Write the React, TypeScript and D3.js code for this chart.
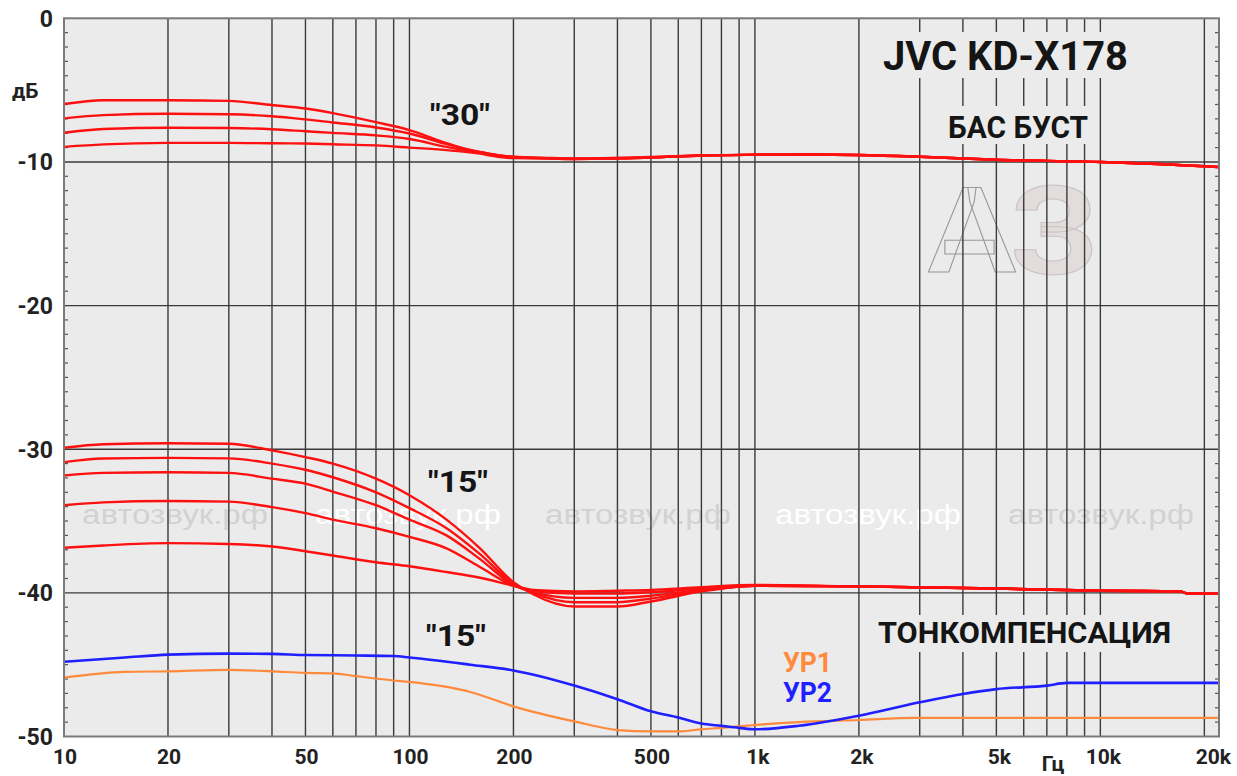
import React from "react";
import * as d3 from "d3";

// ---------- data ----------
const gridFreqs = [20, 30, 40, 50, 60, 70, 80, 90, 100, 200, 300, 400, 500, 600, 700, 800, 900, 1000, 2000, 3000, 4000, 5000, 6000, 7000, 8000, 9000, 10000, 20000];
const xTickValues = [10, 20, 50, 100, 200, 500, 1000, 2000, 5000, 10000, 20000];
const xTickLabels = ["10", "20", "50", "100", "200", "500", "1k", "2k", "5k", "10k", "20k"];
const yTickValues = [0, -10, -20, -30, -40, -50];
const yTickLabels = ["0", "-10", "-20", "-30", "-40", "-50"];

// "30" bass boost group
const bass30Freq = [10, 13, 20, 30, 40, 50, 60, 80, 100, 128, 168, 200, 250, 300, 500, 700, 1000, 1500, 3000, 5000, 10000, 20000, 22050];
const bass30A = [-5.97, -5.7, -5.7, -5.75, -6.04, -6.28, -6.6, -7.23, -7.78, -8.69, -9.52, -9.73, -9.75, -9.8, -9.7, -9.55, -9.5, -9.48, -9.64, -9.85, -10.0, -10.3, -10.36];
const bass30B = [-6.97, -6.74, -6.65, -6.68, -6.82, -7.04, -7.25, -7.6, -8.02, -8.76, -9.4, -9.68, -9.75, -9.8, -9.7, -9.55, -9.5, -9.48, -9.64, -9.85, -10.0, -10.3, -10.36];
const bass30C = [-7.97, -7.71, -7.62, -7.64, -7.72, -7.86, -7.98, -8.15, -8.4, -8.95, -9.4, -9.66, -9.74, -9.78, -9.68, -9.55, -9.5, -9.48, -9.64, -9.85, -10.0, -10.3, -10.36];
const bass30D = [-8.95, -8.78, -8.67, -8.67, -8.7, -8.72, -8.77, -8.85, -9.0, -9.18, -9.46, -9.64, -9.72, -9.76, -9.66, -9.55, -9.5, -9.48, -9.64, -9.85, -10.0, -10.3, -10.36];

// "15" bass boost group
const bass15Freq = [10, 13, 20, 30, 40, 50, 60, 80, 100, 128, 160, 200, 228, 300, 400, 500, 700, 1000, 2000, 5000, 10000, 17000, 18000, 22050];
const bass15A = [-29.9, -29.65, -29.58, -29.62, -30.08, -30.55, -31.0, -32.05, -33.2, -34.9, -36.9, -39.25, -40.1, -40.95, -40.95, -40.6, -39.9, -39.5, -39.55, -39.7, -39.85, -39.9, -40.05, -40.05];
const bass15B = [-30.9, -30.65, -30.6, -30.64, -31.0, -31.43, -31.95, -33.0, -34.1, -35.5, -37.3, -39.35, -40.0, -40.65, -40.65, -40.4, -39.85, -39.5, -39.55, -39.7, -39.85, -39.9, -40.05, -40.05];
const bass15C = [-31.83, -31.65, -31.6, -31.65, -32.05, -32.4, -32.95, -33.9, -34.9, -36.0, -37.65, -39.45, -39.95, -40.35, -40.35, -40.2, -39.8, -39.5, -39.55, -39.7, -39.85, -39.9, -40.05, -40.05];
const bass15D = [-33.9, -33.7, -33.6, -33.65, -34.03, -34.45, -34.9, -35.5, -36.1, -36.9, -38.2, -39.5, -39.85, -40.05, -40.05, -39.95, -39.7, -39.5, -39.55, -39.7, -39.85, -39.9, -40.05, -40.05];
const bass15E = [-36.86, -36.7, -36.54, -36.6, -36.77, -37.1, -37.4, -37.87, -38.15, -38.55, -38.95, -39.5, -39.8, -39.9, -39.85, -39.8, -39.6, -39.45, -39.55, -39.7, -39.85, -39.9, -40.05, -40.05];

// loudness ("15")
const loud2Freq = [10, 15, 20, 30, 40, 50, 70, 90, 100, 150, 200, 300, 400, 500, 600, 700, 800, 900, 1000, 1340, 2000, 3000, 4000, 5000, 7000, 8000, 10000, 22050];
const loud2 = [-44.8, -44.5, -44.3, -44.23, -44.25, -44.33, -44.36, -44.4, -44.5, -45.0, -45.4, -46.45, -47.4, -48.25, -48.68, -49.1, -49.26, -49.4, -49.5, -49.25, -48.55, -47.62, -47.04, -46.7, -46.46, -46.27, -46.27, -46.27];
const loud1Freq = [10, 15, 20, 30, 40, 50, 60, 70, 90, 100, 150, 200, 300, 400, 500, 600, 700, 800, 1000, 1340, 2000, 2900, 22050];
const loud1 = [-45.9, -45.5, -45.46, -45.36, -45.46, -45.57, -45.6, -45.8, -46.1, -46.2, -46.9, -47.9, -48.95, -49.55, -49.65, -49.65, -49.5, -49.4, -49.2, -49.0, -48.85, -48.7, -48.7];

const watermarkX = [175, 408, 638, 868, 1101];

// ---------- layout ----------
const W = 1237;
const H = 776;
const L = 64;
const R = 1219;
const T = 18.3;
const B = 736.5;
const BG = "#ebebeb";
const FONT = "Roboto, 'DejaVu Sans', sans-serif";

const x = d3.scaleLog().domain([10, 22050]).range([L, R]);
const y = d3.scaleLinear().domain([0, -50]).range([T, B]);

const line = d3
  .line<[number, number]>()
  .x((d) => x(d[0]))
  .y((d) => y(d[1]))
  .curve(d3.curveMonotoneX);

function path(freqs: number[], vals: number[]) {
  return line(freqs.map((f, i) => [f, vals[i]] as [number, number])) || "";
}

export default function App() {
  const minor = d3.range(-49, 0, 1).filter((v) => v % 10 !== 0);
  const redCurves = [
    { f: bass30Freq, v: bass30A },
    { f: bass30Freq, v: bass30B },
    { f: bass30Freq, v: bass30C },
    { f: bass30Freq, v: bass30D },
    { f: bass15Freq, v: bass15A },
    { f: bass15Freq, v: bass15B },
    { f: bass15Freq, v: bass15C },
    { f: bass15Freq, v: bass15D },
    { f: bass15Freq, v: bass15E },
  ];
  return (
    <svg
      width={W}
      height={H}
      style={{ position: "absolute", left: 0, top: 0, background: "#fff" }}
    >
      <rect x={L} y={T} width={R - L} height={B - T} fill={BG} />

      {/* watermark logo */}
      <text x={928} y={272} fontFamily={FONT} fontWeight={700} fontSize={118} fill="none" stroke="#9a9a9a" strokeWidth={1} textLength={88} lengthAdjust="spacingAndGlyphs">А</text>
      <text x={1010} y={274} fontFamily={FONT} fontWeight={700} fontSize={122} fill="#e2dcdc" stroke="#c8c2c2" strokeWidth={1} textLength={88} lengthAdjust="spacingAndGlyphs">З</text>

      {/* watermark texts */}
      {watermarkX.map((cx, i) => (
        <text
          key={"wm" + i}
          x={cx}
          y={524}
          textAnchor="middle"
          fontFamily="'Liberation Sans', Arial, sans-serif"
          fontSize={27}
          fill={i % 2 === 0 ? "#d2d2d2" : "#ffffff"}
          textLength={186}
          lengthAdjust="spacingAndGlyphs"
        >
          автозвук.рф
        </text>
      ))}

      {/* vertical grid */}
      {gridFreqs.map((f) => (
        <line key={"vg" + f} x1={x(f)} x2={x(f)} y1={T} y2={B} stroke="#3a3a3a" strokeWidth={1.4} />
      ))}
      {/* horizontal grid */}
      {[-10, -20, -30, -40].map((v) => (
        <line key={"hg" + v} x1={L} x2={R} y1={y(v)} y2={y(v)} stroke="#3a3a3a" strokeWidth={1.4} />
      ))}
      {/* minor ticks */}
      {minor.map((v) => (
        <g key={"mt" + v}>
          <line x1={L} x2={L + 4} y1={y(v)} y2={y(v)} stroke="#555" strokeWidth={1.2} />
          <line x1={R - 4} x2={R} y1={y(v)} y2={y(v)} stroke="#555" strokeWidth={1.2} />
        </g>
      ))}

      {/* label backgrounds (hide grid) */}
      <rect x={875} y={32} width={260} height={46} fill={BG} />
      <rect x={940} y={106} width={155} height={38} fill={BG} />
      <rect x={870} y={615} width={310} height={37} fill={BG} />

      {/* curves */}
      <path d={path(loud1Freq, loud1)} fill="none" stroke="#ff8a3c" strokeWidth={2.2} />
      <path d={path(loud2Freq, loud2)} fill="none" stroke="#1f1fff" strokeWidth={2.6} />
      {redCurves.map((c, i) => (
        <path key={"rc" + i} d={path(c.f, c.v)} fill="none" stroke="#ff1010" strokeWidth={2.4} />
      ))}

      {/* frame */}
      <rect x={L} y={T} width={R - L} height={B - T} fill="none" stroke="#7a7a7a" strokeWidth={2} />

      {/* y tick labels */}
      {yTickValues.map((v, i) => (
        <text key={"yl" + v} x={53} y={y(v) + 8.5} textAnchor="end" fontFamily={FONT} fontWeight={700} fontSize={23} fill="#222">
          {yTickLabels[i]}
        </text>
      ))}
      <text x={12} y={98} fontFamily={FONT} fontWeight={700} fontSize={21} fill="#222">дБ</text>

      {/* x tick labels */}
      {xTickValues.map((f, i) => (
        <text
          key={"xl" + f}
          x={x(f) + (f === 20000 ? 9 : f >= 1000 ? 3 : 1)}
          y={764}
          textAnchor="middle"
          fontFamily={FONT}
          fontWeight={700}
          fontSize={21}
          fill="#222"
        >
          {xTickLabels[i]}
        </text>
      ))}
      <text x={1053} y={771} textAnchor="middle" fontFamily={FONT} fontWeight={700} fontSize={21} fill="#222">Гц</text>

      {/* annotations */}
      <text x={883} y={70} fontFamily={FONT} fontWeight={700} fontSize={41} fill="#151515" textLength={245} lengthAdjust="spacingAndGlyphs">JVC KD-X178</text>
      <text x={948} y={138} fontFamily={FONT} fontWeight={700} fontSize={31} fill="#151515" textLength={140} lengthAdjust="spacingAndGlyphs">БАС БУСТ</text>
      <text x={430} y={125} fontFamily={FONT} fontWeight={700} fontSize={29} fill="#151515" textLength={60} lengthAdjust="spacingAndGlyphs">"30"</text>
      <text x={428} y={492} fontFamily={FONT} fontWeight={700} fontSize={29} fill="#151515" textLength={60} lengthAdjust="spacingAndGlyphs">"15"</text>
      <text x={426} y={646} fontFamily={FONT} fontWeight={700} fontSize={29} fill="#151515" textLength={60} lengthAdjust="spacingAndGlyphs">"15"</text>
      <text x={878} y={643} fontFamily={FONT} fontWeight={700} fontSize={29} fill="#151515" textLength={293} lengthAdjust="spacingAndGlyphs">ТОНКОМПЕНСАЦИЯ</text>
      <text x={783} y={672} fontFamily={FONT} fontWeight={700} fontSize={28} fill="#ff8a3c" textLength={49} lengthAdjust="spacingAndGlyphs">УР1</text>
      <text x={783} y={702} fontFamily={FONT} fontWeight={700} fontSize={28} fill="#1f1fff" textLength={49} lengthAdjust="spacingAndGlyphs">УР2</text>
    </svg>
  );
}
